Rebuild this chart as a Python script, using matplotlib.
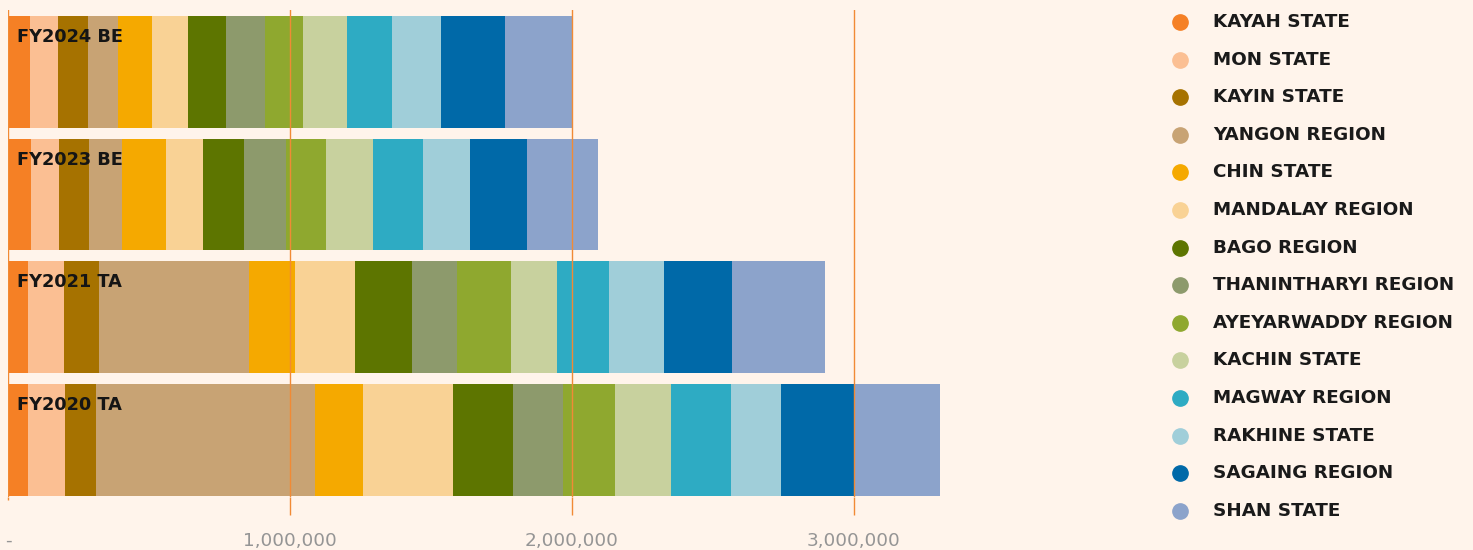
import matplotlib
matplotlib.use("Agg")
import matplotlib.pyplot as plt
import numpy as np

W, H, DPI = 1473, 550, 100
BG = "#FFF4EB"
GRID = "#F18A35"

years = ["FY2024 BE", "FY2023 BE", "FY2021 TA", "FY2020 TA"]
regions = ["KAYAH STATE", "MON STATE", "KAYIN STATE", "YANGON REGION", "CHIN STATE",
           "MANDALAY REGION", "BAGO REGION", "THANINTHARYI REGION", "AYEYARWADDY REGION",
           "KACHIN STATE", "MAGWAY REGION", "RAKHINE STATE", "SAGAING REGION", "SHAN STATE"]
colors = ["#F58025", "#FBBF93", "#A67200", "#C8A374", "#F5A900", "#F9D295", "#5D7500",
          "#8D9A6C", "#8FA82F", "#C8D19E", "#2EABC3", "#A0CED9", "#0069A8", "#8CA3CB"]

fy2024 = [78000, 99600, 106700, 105000, 120600, 127700, 136200, 135800, 136200,
          157100, 158500, 173800, 227300, 238300]
fy2023 = [81200, 99600, 106700, 117700, 155700, 130100, 146100, 148600, 141500,
          167000, 178000, 166700, 202100, 251100]
fy2021 = [69500, 130100, 123800, 529800, 163100, 212800, 201800, 160600, 191100,
          165200, 184400, 195400, 241100, 330100]
fy2020 = [71600, 130100, 110600, 777700, 169100, 319100, 213100, 178000, 182300,
          200000, 212800, 178000, 256000, 306400]

tick_values = [0, 1000000, 2000000, 3000000]
tick_labels = ["-", "1,000,000", "2,000,000", "3,000,000"]

series = np.array([fy2024, fy2023, fy2021, fy2020], dtype=float)

fig = plt.figure(figsize=(W / DPI, H / DPI), dpi=DPI, facecolor=BG)
ax = fig.add_axes([8 / W, 1 - 497 / H, (995 - 8) / W, (497 - 10) / H])
ax.set_facecolor(BG)

ypos = np.arange(len(years))
left = np.zeros(len(years))
for j, reg in enumerate(regions):
    vals = series[:, j]
    ax.barh(ypos, vals, left=left, height=0.91, color=colors[j], zorder=2, linewidth=0)
    left += vals

for x in tick_values:
    ax.axvline(x, color=GRID, lw=1.0, zorder=3)

ax.set_xlim(0, 3500000)
ax.set_ylim(3 + 0.465, -0.505)
ax.set_yticks([])
for s in ax.spines.values():
    s.set_visible(False)
ax.set_xticks(tick_values)
ax.set_xticklabels(tick_labels, color="#959595", fontsize=13.3)
ax.tick_params(axis="x", length=13, width=1.0, color=GRID, pad=12)
ax.xaxis.get_major_ticks()[0].tick1line.set_markersize(2)

for i, yr in enumerate(years):
    ax.annotate(yr, xy=(0, i - 0.455), xytext=(9, -21), textcoords="offset pixels",
                fontsize=12.8, fontweight="bold", color="#151515", va="center", ha="left",
                zorder=5)

# legend
y0, step = 22, 37.6
for j, reg in enumerate(regions):
    yy = 1 - (y0 + step * j) / H
    fig.lines.append(plt.Line2D([1180 / W], [yy], marker="o", markersize=11, color=colors[j],
                                linestyle="none", transform=fig.transFigure, figure=fig))
    fig.text(1213 / W, yy, reg, fontsize=13.2, fontweight="bold", color="#1A1A1A",
             va="center", ha="left")

fig.savefig("out.png", dpi=DPI, facecolor=BG)
